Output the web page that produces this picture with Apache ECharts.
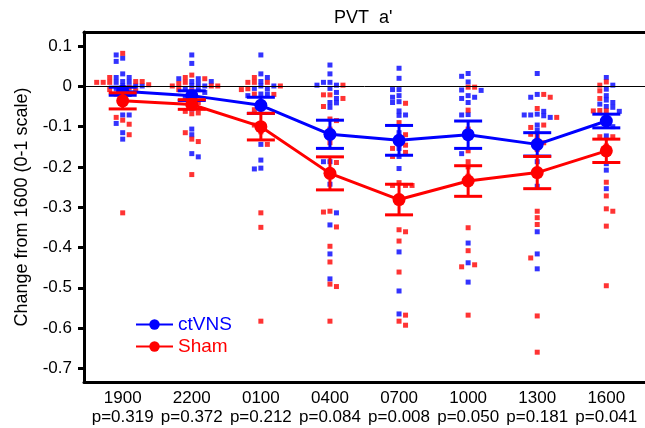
<!DOCTYPE html>
<html><head><meta charset="utf-8">
<script src="https://cdn.jsdelivr.net/npm/echarts@6/dist/echarts.min.js"></script>
<style>html,body{margin:0;padding:0;background:#fff}#c{width:645px;height:428px}</style>
</head><body><div id="c"></div>
<script>
// ---------------- data ----------------
const categories = ['1900', '2200', '0100', '0400', '0700', '1000', '1300', '1600'];
const pLabels = ['p=0.319', 'p=0.372', 'p=0.212', 'p=0.084', 'p=0.008', 'p=0.050', 'p=0.181', 'p=0.041'];
const yTicks = [0.1, 0, -0.1, -0.2, -0.3, -0.4, -0.5, -0.6, -0.7];

const ctvnsMean = [-0.012, -0.023, -0.047, -0.119, -0.134, -0.120, -0.144, -0.086];
const ctvnsSem  = [0.010, 0.012, 0.020, 0.035, 0.037, 0.034, 0.029, 0.017];
const shamMean  = [-0.036, -0.045, -0.100, -0.216, -0.281, -0.235, -0.214, -0.160];
const shamSem   = [0.020, 0.012, 0.033, 0.041, 0.038, 0.038, 0.040, 0.029];

const ctvnsPoints = [
  [0.078, 0.062, 0.07, 0.031, 0.022, 0.022, 0.001, 0.001, 0.01, 0.01, 0.012, 0.001, -0.011, -0.005, -0.02, -0.071, -0.071, -0.092, -0.115, -0.131],
  [0.078, 0.057, 0.012, 0.012, 0.019, 0.019, 0.007, 0.001, 0.001, -0.008, -0.005, -0.015, -0.023, -0.03, -0.056, -0.106, -0.12, -0.167, -0.175],
  [0.078, 0.031, 0.022, 0.012, 0.001, 0.001, -0.019, -0.019, -0.023, -0.005, -0.006, -0.095, -0.144, -0.183, -0.205, -0.203],
  [0.053, 0.031, 0.01, 0.003, 0.003, 0.01, -0.005, -0.015, -0.04, -0.03, -0.041, -0.052, -0.187, -0.187, -0.243, -0.314, -0.344, -0.416, -0.478],
  [0.045, 0.02, -0.008, -0.008, -0.027, -0.023, -0.038, -0.04, -0.061, -0.072, -0.071, -0.115, -0.154, -0.204, -0.174, -0.411, -0.508, -0.565],
  [0.032, 0.025, 0.011, -0.01, -0.009, -0.027, -0.04, -0.03, -0.023, -0.071, -0.07, -0.167, -0.237, -0.389, -0.438, -0.486],
  [0.032, -0.027, -0.02, -0.062, -0.073, -0.071, -0.077, -0.071, -0.069, -0.096, -0.109, -0.187, -0.248, -0.361, -0.416, -0.453],
  [0.022, 0.003, -0.007, -0.023, -0.034, -0.04, -0.044, -0.05, -0.052, -0.062, -0.09, -0.1, -0.123, -0.16, -0.192, -0.208, -0.254]
];
const shamPoints = [
  [0.082, 0.022, 0.012, 0.012, 0.01, 0.01, 0.01, 0.004, -0.003, -0.011, -0.019, -0.008, -0.084, -0.094, -0.077, -0.12, -0.314],
  [0.028, 0.019, 0.007, 0.001, 0.01, 0.001, 0.001, 0.022, -0.011, -0.008, -0.04, -0.039, -0.062, -0.068, -0.066, -0.115, -0.137, -0.131, -0.219],
  [0.022, 0.001, 0.01, 0.01, 0.01, -0.02, -0.008, -0.006, -0.019, -0.058, -0.052, -0.096, -0.113, -0.144, -0.314, -0.35, -0.583],
  [0.003, -0.021, -0.03, -0.021, -0.05, -0.081, -0.085, -0.106, -0.124, -0.14, -0.189, -0.31, -0.312, -0.349, -0.397, -0.436, -0.497, -0.491, -0.583],
  [-0.042, -0.09, -0.12, -0.146, -0.154, -0.141, -0.164, -0.174, -0.246, -0.246, -0.246, -0.239, -0.356, -0.361, -0.384, -0.461, -0.568, -0.583, -0.593],
  [-0.002, -0.002, -0.059, -0.106, -0.12, -0.16, -0.187, -0.2, -0.223, -0.351, -0.408, -0.443, -0.448, -0.568],
  [-0.02, -0.027, -0.055, -0.077, -0.096, -0.102, -0.119, -0.122, -0.134, -0.14, -0.157, -0.31, -0.326, -0.343, -0.426, -0.57, -0.66],
  [0.011, 0.003, -0.011, -0.03, -0.06, -0.061, -0.061, -0.125, -0.125, -0.148, -0.238, -0.272, -0.304, -0.31, -0.347, -0.495]
];

// ---------------- layout / style ----------------
const BLUE = '#0000ff', RED = '#ff0000';
const FONT = '"Liberation Sans", Arial, Helvetica, sans-serif';
const W = 645, H = 428;
const G = { left: 84, right: 0, top: 32, bottom: 46 };
const X_MIN = -0.56, X_MAX = 7.56, Y_MIN = -0.734, Y_MAX = 0.135;
const pxPerX = (W - G.left - G.right) / (X_MAX - X_MIN);
const pxPerY = (H - G.top - G.bottom) / (Y_MAX - Y_MIN);

// beeswarm-style horizontal spreading of the dots (layout only)
function swarm() {
  const out = { blue: [], red: [] };
  const DX = 6.5, DY = 4.2;
  categories.forEach((c, i) => {
    const items = [];
    ctvnsPoints[i].forEach(v => items.push({ v, g: 'blue' }));
    shamPoints[i].forEach(v => items.push({ v, g: 'red' }));
    items.sort((a, b) => b.v - a.v);
    const placed = [];
    items.forEach((it, n) => {
      const y = -it.v * pxPerY;
      const sgn = n % 2 === 0 ? 1 : -1;
      for (let k = 0; k < 80; k++) {
        const off = (k % 2 === 1 ? sgn : -sgn) * Math.ceil(k / 2) * DX;
        const hit = placed.some(p => Math.abs(p.x - off) < DX - 0.01 && Math.abs(p.y - y) < DY);
        if (!hit) {
          placed.push({ x: off, y });
          out[it.g].push([i + off / pxPerX, it.v]);
          break;
        }
      }
    });
  });
  return out;
}
const sw = swarm();

function errSeries(name, means, sems, color, z) {
  return {
    name: name + ' err', type: 'custom', z,
    data: means.map((m, i) => [i, m, sems[i]]),
    renderItem: (params, api) => {
      const x = api.value(0), m = api.value(1), s = api.value(2);
      const t = api.coord([x, m + s]), b = api.coord([x, m - s]);
      const cw = 14;
      const st = { stroke: color, lineWidth: 3 };
      return { type: 'group', children: [
        { type: 'line', shape: { x1: t[0], y1: t[1], x2: b[0], y2: b[1] }, style: st },
        { type: 'line', shape: { x1: t[0] - cw, y1: t[1], x2: t[0] + cw, y2: t[1] }, style: st },
        { type: 'line', shape: { x1: b[0] - cw, y1: b[1], x2: b[0] + cw, y2: b[1] }, style: st }
      ]};
    }
  };
}

const chart = echarts.init(document.getElementById('c'), null, { renderer: 'canvas' });
chart.setOption({
  animation: false,
  backgroundColor: '#fff',
  textStyle: { fontFamily: FONT },
  title: {
    text: "PVT  a'", left: 334, top: 9, padding: 0,
    textStyle: { fontFamily: FONT, fontSize: 18, fontWeight: 'normal', color: '#000' }
  },
  legend: {
    orient: 'vertical', left: 130, top: 310, itemWidth: 37, itemHeight: 13, itemGap: 3,
    data: [
      { name: 'ctVNS', textStyle: { color: BLUE } },
      { name: 'Sham', textStyle: { color: RED } }
    ],
    textStyle: { fontFamily: FONT, fontSize: 19 }
  },
  grid: { left: G.left, right: G.right, top: G.top, bottom: G.bottom, containLabel: false },
  xAxis: [
    {
      type: 'value', min: X_MIN, max: X_MAX, position: 'bottom',
      axisLine: { show: true, onZero: false, lineStyle: { color: '#000', width: 3 } },
      axisTick: { show: false },
      splitLine: { show: false },
      axisLabel: {
        customValues: categories.map((c, i) => i),
        formatter: v => categories[Math.round(v)] + '\n' + pLabels[Math.round(v)],
        color: '#000', fontFamily: FONT, fontSize: 17, lineHeight: 19, margin: 7
      }
    },
    {
      type: 'value', min: X_MIN, max: X_MAX, position: 'top',
      axisLine: { show: true, onZero: false, lineStyle: { color: '#000', width: 3 } },
      axisTick: { show: false }, axisLabel: { show: false }, splitLine: { show: false }
    }
  ],
  yAxis: {
    type: 'value', min: Y_MIN, max: Y_MAX, position: 'left',
    name: 'Change from 1600 (0-1 scale)', nameLocation: 'middle', nameGap: 53, nameRotate: 90,
    nameTextStyle: { color: '#000', fontFamily: FONT, fontSize: 18 },
    axisLine: { show: true, onZero: false, lineStyle: { color: '#000', width: 3 } },
    axisTick: { show: true, customValues: yTicks, length: 6, lineStyle: { color: '#000', width: 3 } },
    axisLabel: {
      customValues: yTicks, formatter: v => String(Math.round(v * 10) / 10),
      color: '#000', fontFamily: FONT, fontSize: 17, margin: 12
    },
    splitLine: { show: false }
  },
  series: [
    {
      name: 'ctVNS pts', type: 'scatter', symbol: 'rect', symbolSize: 5, z: 2,
      itemStyle: { color: BLUE }, data: sw.blue,
      markLine: {
        silent: true, symbol: ['none', 'none'], label: { show: false },
        lineStyle: { color: '#000', width: 1, type: 'solid' },
        data: [{ yAxis: 0 }]
      }
    },
    {
      name: 'Sham pts', type: 'scatter', symbol: 'rect', symbolSize: 5, z: 2,
      itemStyle: { color: RED }, data: sw.red
    },
    errSeries('ctVNS', ctvnsMean, ctvnsSem, BLUE, 3),
    {
      name: 'ctVNS', type: 'line', z: 4, symbol: 'circle', symbolSize: 13,
      itemStyle: { color: BLUE }, lineStyle: { color: BLUE, width: 3 },
      data: ctvnsMean.map((m, i) => [i, m])
    },
    errSeries('Sham', shamMean, shamSem, RED, 5),
    {
      name: 'Sham', type: 'line', z: 6, symbol: 'circle', symbolSize: 13,
      itemStyle: { color: RED }, lineStyle: { color: RED, width: 3 },
      data: shamMean.map((m, i) => [i, m])
    }
  ]
});
</script>
</body></html>
